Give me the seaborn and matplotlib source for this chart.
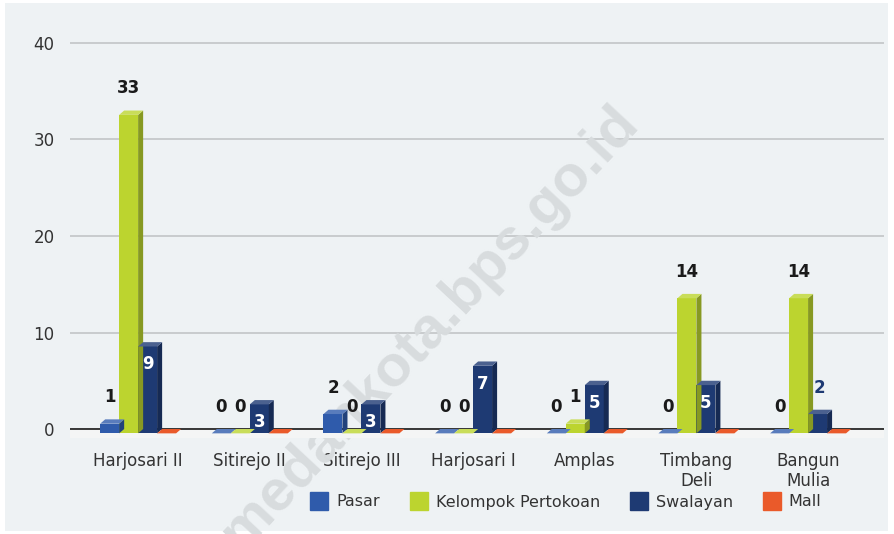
import matplotlib
matplotlib.use("Agg")
import matplotlib.pyplot as plt
import matplotlib.patches as mpatches
from matplotlib.lines import Line2D
from matplotlib.colors import to_rgb
import seaborn as sns
import pandas as pd

# ---- data ----
categories = ["Harjosari II", "Sitirejo II", "Sitirejo III", "Harjosari I",
              "Amplas", "Timbang\nDeli", "Bangun\nMulia"]
series = ["Pasar", "Kelompok Pertokoan", "Swalayan", "Mall"]
pasar = [1, 0, 2, 0, 0, 0, 0]
kelompok_pertokoan = [33, 0, 0, 0, 1, 14, 14]
swalayan = [9, 3, 3, 7, 5, 5, 2]
mall = [0, 0, 0, 0, 0, 0, 0]
yticks = [0, 10, 20, 30, 40]

values = {"Pasar": pasar, "Kelompok Pertokoan": kelompok_pertokoan,
          "Swalayan": swalayan, "Mall": mall}
colors = ["#2f5bab", "#bcd42f", "#1e3a73", "#ea5a2a"]

rows = []
for s in series:
    for c, v in zip(categories, values[s]):
        rows.append({"Kelurahan": c, "Jenis": s, "Jumlah": v})
df = pd.DataFrame(rows)

BG = "#eef2f4"
sns.set_style("white")
plt.rcParams["font.family"] = ["DejaVu Sans"]

fig = plt.figure(figsize=(8.94, 5.34), dpi=100, facecolor="white")
fig.patches.append(mpatches.Rectangle((5 / 894, 3 / 534), 1 - 11 / 894, 1 - 6 / 534,
                                      transform=fig.transFigure, facecolor=BG,
                                      edgecolor="none", zorder=-10))
ax = fig.add_axes([70 / 894, 1 - 437.7 / 534, (884 - 70) / 894, (437.7 - 28.5) / 534])
ax.set_facecolor(BG)

sns.barplot(data=df, x="Kelurahan", y="Jumlah", hue="Jenis", hue_order=series,
            order=categories, palette=colors, width=0.68, legend=False,
            saturation=1, ax=ax, zorder=3, linewidth=0)

dx, dy = 0.045, 0.45


def shade(c, f):
    r, g, b = to_rgb(c)
    return (r * f, g * f, b * f)


def tint(c, f):
    r, g, b = to_rgb(c)
    return (r + (1 - r) * f, g + (1 - g) * f, b + (1 - b) * f)


lab_kw = dict(ha="center", va="center", fontsize=12, fontweight="bold", zorder=5)
for si, (cont, s) in enumerate(zip(ax.containers, series)):
    col = colors[si]
    for bar, v in zip(cont, values[s]):
        x, w, h = bar.get_x(), bar.get_width(), bar.get_height()
        bar.set_y(-dy)
        side = mpatches.Polygon([(x + w, -dy), (x + w + dx, 0), (x + w + dx, h), (x + w, h - dy)],
                                closed=True, facecolor=shade(col, 0.72), edgecolor="none", zorder=3)
        top = mpatches.Polygon([(x, h - dy), (x + w, h - dy), (x + w + dx, h), (x + dx, h)],
                               closed=True, facecolor=tint(col, 0.2) if s != "Mall" else col,
                               edgecolor="none", zorder=3)
        ax.add_patch(side)
        ax.add_patch(top)
        cx = x + w / 2
        if s == "Mall":
            continue
        if s == "Swalayan":
            if v >= 3:
                ax.text(cx, v - 2.3, f"{v}", color="white", **lab_kw)
            else:
                ax.text(cx + 0.02, v + 2.2, f"{v}", color=col, **lab_kw)
        else:
            ax.text(cx, v + 2.3, f"{v}", color="#1a1a1a", **lab_kw)

ax.axhspan(-0.9, 0, color="#f4f5f5", zorder=1, lw=0)
ax.axhline(0, color="#2a2a2a", lw=1.3, zorder=2)

ax.set_ylim(-0.9, 41.5)
ax.set_xlim(-0.61, 6.68)
ax.set_yticks(yticks)
ax.set_yticklabels([str(t) for t in yticks])
ax.yaxis.grid(True, color="#c6c9cb", lw=1.3)
ax.set_axisbelow(True)
ax.tick_params(axis="y", length=0, pad=11, labelsize=12, labelcolor="#333333")
ax.tick_params(axis="x", length=0, pad=10, labelsize=12, labelcolor="#333333")
ax.set_xlabel("")
ax.set_ylabel("")
for sp in ax.spines.values():
    sp.set_visible(False)

handles = [Line2D([0], [0], marker="s", linestyle="none", markersize=12.5,
                  markerfacecolor=c, markeredgecolor=c) for c in colors]
fig.legend(handles, series, loc="center", bbox_to_anchor=(566 / 894, 1 - 502 / 534),
           ncol=4, frameon=False, fontsize=11.5, handlelength=1.1, handletextpad=0.5,
           columnspacing=1.9, labelcolor="#333333")

ax.text(430 / 894, 1 - 328 / 534, "medankota.bps.go.id", transform=fig.transFigure,
        rotation=47, ha="center", va="center", fontsize=42, fontweight="bold",
        family="Liberation Sans", color="#d8dcde", zorder=0.6, clip_on=False)

fig.savefig("out.png", dpi=100, facecolor="white")
